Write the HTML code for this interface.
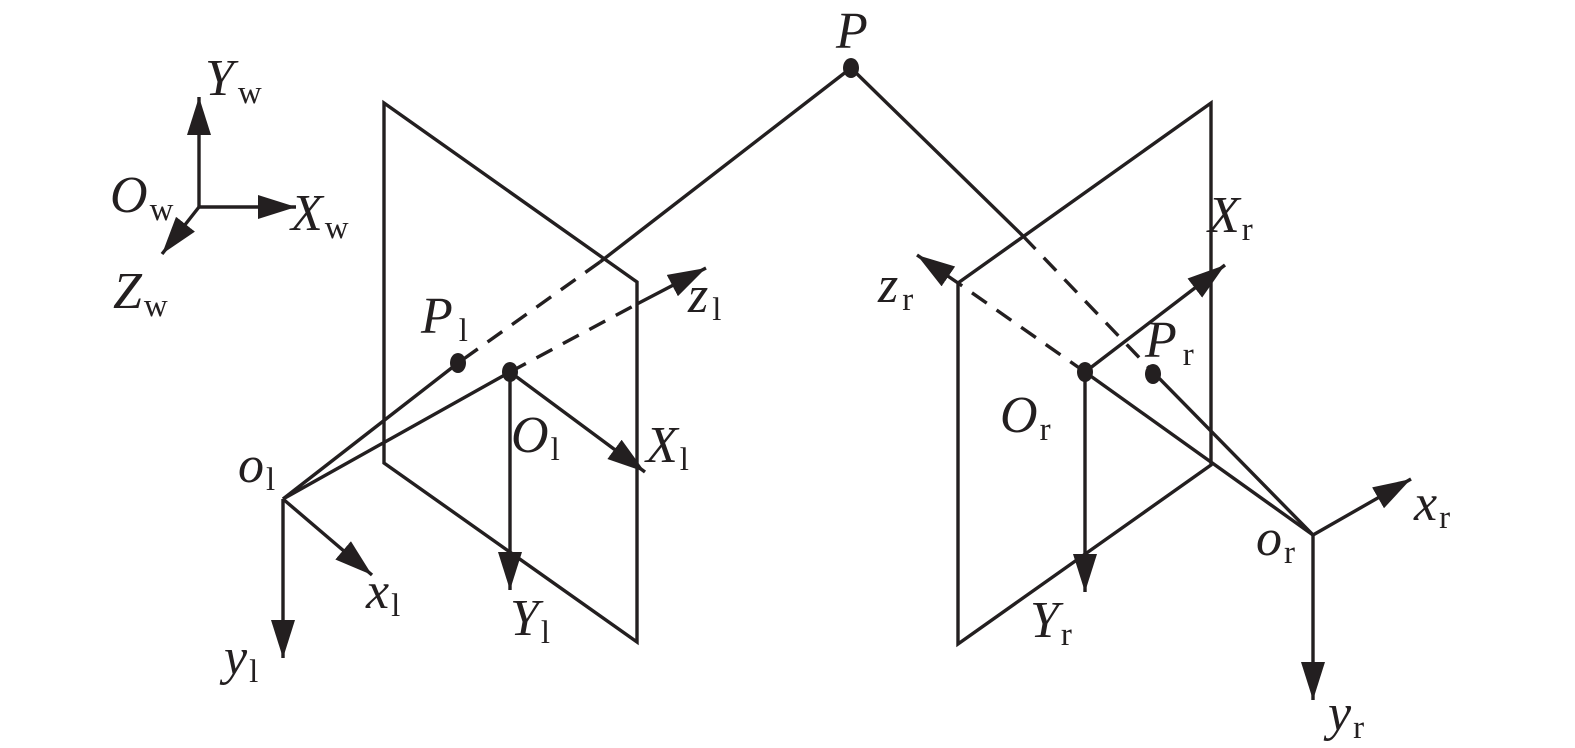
<!DOCTYPE html>
<html><head><meta charset="utf-8"><style>
html,body{margin:0;padding:0;background:#fff}
svg{display:block}
text{font-family:"Liberation Serif",serif;fill:#231f20}
.m{font-style:italic;font-size:52px}
.s{font-size:33px}
</style></head><body>
<svg width="1575" height="748" viewBox="0 0 1575 748" xmlns="http://www.w3.org/2000/svg">
<defs>
<marker id="a" markerUnits="userSpaceOnUse" markerWidth="44" markerHeight="26" refX="38" refY="12" orient="auto">
<path d="M0,0 L38,12 L0,24 Z" fill="#231f20"/>
</marker>
</defs>
<g stroke="#231f20" stroke-width="3.4" fill="none" stroke-linejoin="miter">
<path d="M384,103 L637,282 L637,642 L384,463 Z"/>
<path d="M958,283 L1211,103 L1211,465 L958,644 Z"/>
<line x1="199" y1="207" x2="199" y2="97" marker-end="url(#a)"/>
<line x1="199" y1="207" x2="296" y2="207" marker-end="url(#a)"/>
<line x1="199" y1="207" x2="162" y2="254" marker-end="url(#a)"/>
<line x1="851" y1="68" x2="600" y2="262"/>
<line x1="600" y1="262" x2="458" y2="363" stroke-dasharray="18,12"/>
<line x1="458" y1="363" x2="283" y2="499"/>
<line x1="283" y1="499" x2="510" y2="372"/>
<line x1="510" y1="372" x2="637" y2="304" stroke-dasharray="18,12"/>
<line x1="637" y1="304" x2="706" y2="268" marker-end="url(#a)"/>
<line x1="510" y1="372" x2="645" y2="472" marker-end="url(#a)"/>
<line x1="510" y1="372" x2="510" y2="590" marker-end="url(#a)"/>
<line x1="283" y1="499" x2="372" y2="575" marker-end="url(#a)"/>
<line x1="283" y1="499" x2="283" y2="658" marker-end="url(#a)"/>
<line x1="851" y1="68" x2="1023" y2="236"/>
<line x1="1023" y1="236" x2="1153" y2="372" stroke-dasharray="18,12"/>
<line x1="1153" y1="372" x2="1313" y2="535"/>
<line x1="1085" y1="372" x2="1313" y2="535"/>
<line x1="1085" y1="372" x2="958" y2="283" stroke-dasharray="18,12"/>
<line x1="958" y1="283" x2="917" y2="255" marker-end="url(#a)"/>
<line x1="1085" y1="372" x2="1225" y2="265" marker-end="url(#a)"/>
<line x1="1085" y1="372" x2="1085" y2="592" marker-end="url(#a)"/>
<line x1="1313" y1="535" x2="1411" y2="479" marker-end="url(#a)"/>
<line x1="1313" y1="535" x2="1313" y2="700" marker-end="url(#a)"/>
</g>
<g fill="#231f20">
<ellipse cx="851" cy="68" rx="8" ry="10"/>
<ellipse cx="458" cy="363" rx="8" ry="10"/>
<ellipse cx="510" cy="372" rx="8" ry="10"/>
<ellipse cx="1085" cy="372" rx="8" ry="10"/>
<ellipse cx="1153" cy="374" rx="8" ry="10"/>
</g>
<text class="m" x="836" y="48">P</text>
<text class="m" x="205" y="95">Y<tspan class="s" font-style="normal" dx="4" dy="8">w</tspan></text>
<text class="m" x="110" y="212">O<tspan class="s" font-style="normal" dx="2" dy="8">w</tspan></text>
<text class="m" x="291" y="230">X<tspan class="s" font-style="normal" dx="2" dy="8">w</tspan></text>
<text class="m" x="113" y="308">Z<tspan class="s" font-style="normal" dx="2" dy="8">w</tspan></text>
<text class="m" x="421" y="333">P<tspan class="s" font-style="normal" dx="6" dy="8">l</tspan></text>
<text class="m" x="688" y="312">z<tspan class="s" font-style="normal" dx="4" dy="8">l</tspan></text>
<text class="m" x="511" y="452">O<tspan class="s" font-style="normal" dx="2" dy="8">l</tspan></text>
<text class="m" x="646" y="462">X<tspan class="s" font-style="normal" dx="2" dy="8">l</tspan></text>
<text class="m" x="238" y="482">o<tspan class="s" font-style="normal" dx="2" dy="8">l</tspan></text>
<text class="m" x="366" y="608">x<tspan class="s" font-style="normal" dx="2" dy="8">l</tspan></text>
<text class="m" x="510" y="635">Y<tspan class="s" font-style="normal" dx="2" dy="8">l</tspan></text>
<text class="m" x="224" y="674">y<tspan class="s" font-style="normal" dx="2" dy="8">l</tspan></text>
<text class="m" x="878" y="302">z<tspan class="s" font-style="normal" dx="4" dy="8">r</tspan></text>
<text class="m" x="1208" y="232">X<tspan class="s" font-style="normal" dx="2" dy="8">r</tspan></text>
<text class="m" x="1145" y="357">P<tspan class="s" font-style="normal" dx="6" dy="8">r</tspan></text>
<text class="m" x="1000" y="432">O<tspan class="s" font-style="normal" dx="2" dy="8">r</tspan></text>
<text class="m" x="1030" y="637">Y<tspan class="s" font-style="normal" dx="2" dy="8">r</tspan></text>
<text class="m" x="1256" y="555">o<tspan class="s" font-style="normal" dx="2" dy="8">r</tspan></text>
<text class="m" x="1414" y="520">x<tspan class="s" font-style="normal" dx="2" dy="8">r</tspan></text>
<text class="m" x="1328" y="730">y<tspan class="s" font-style="normal" dx="2" dy="8">r</tspan></text>
</svg>
</body></html>
